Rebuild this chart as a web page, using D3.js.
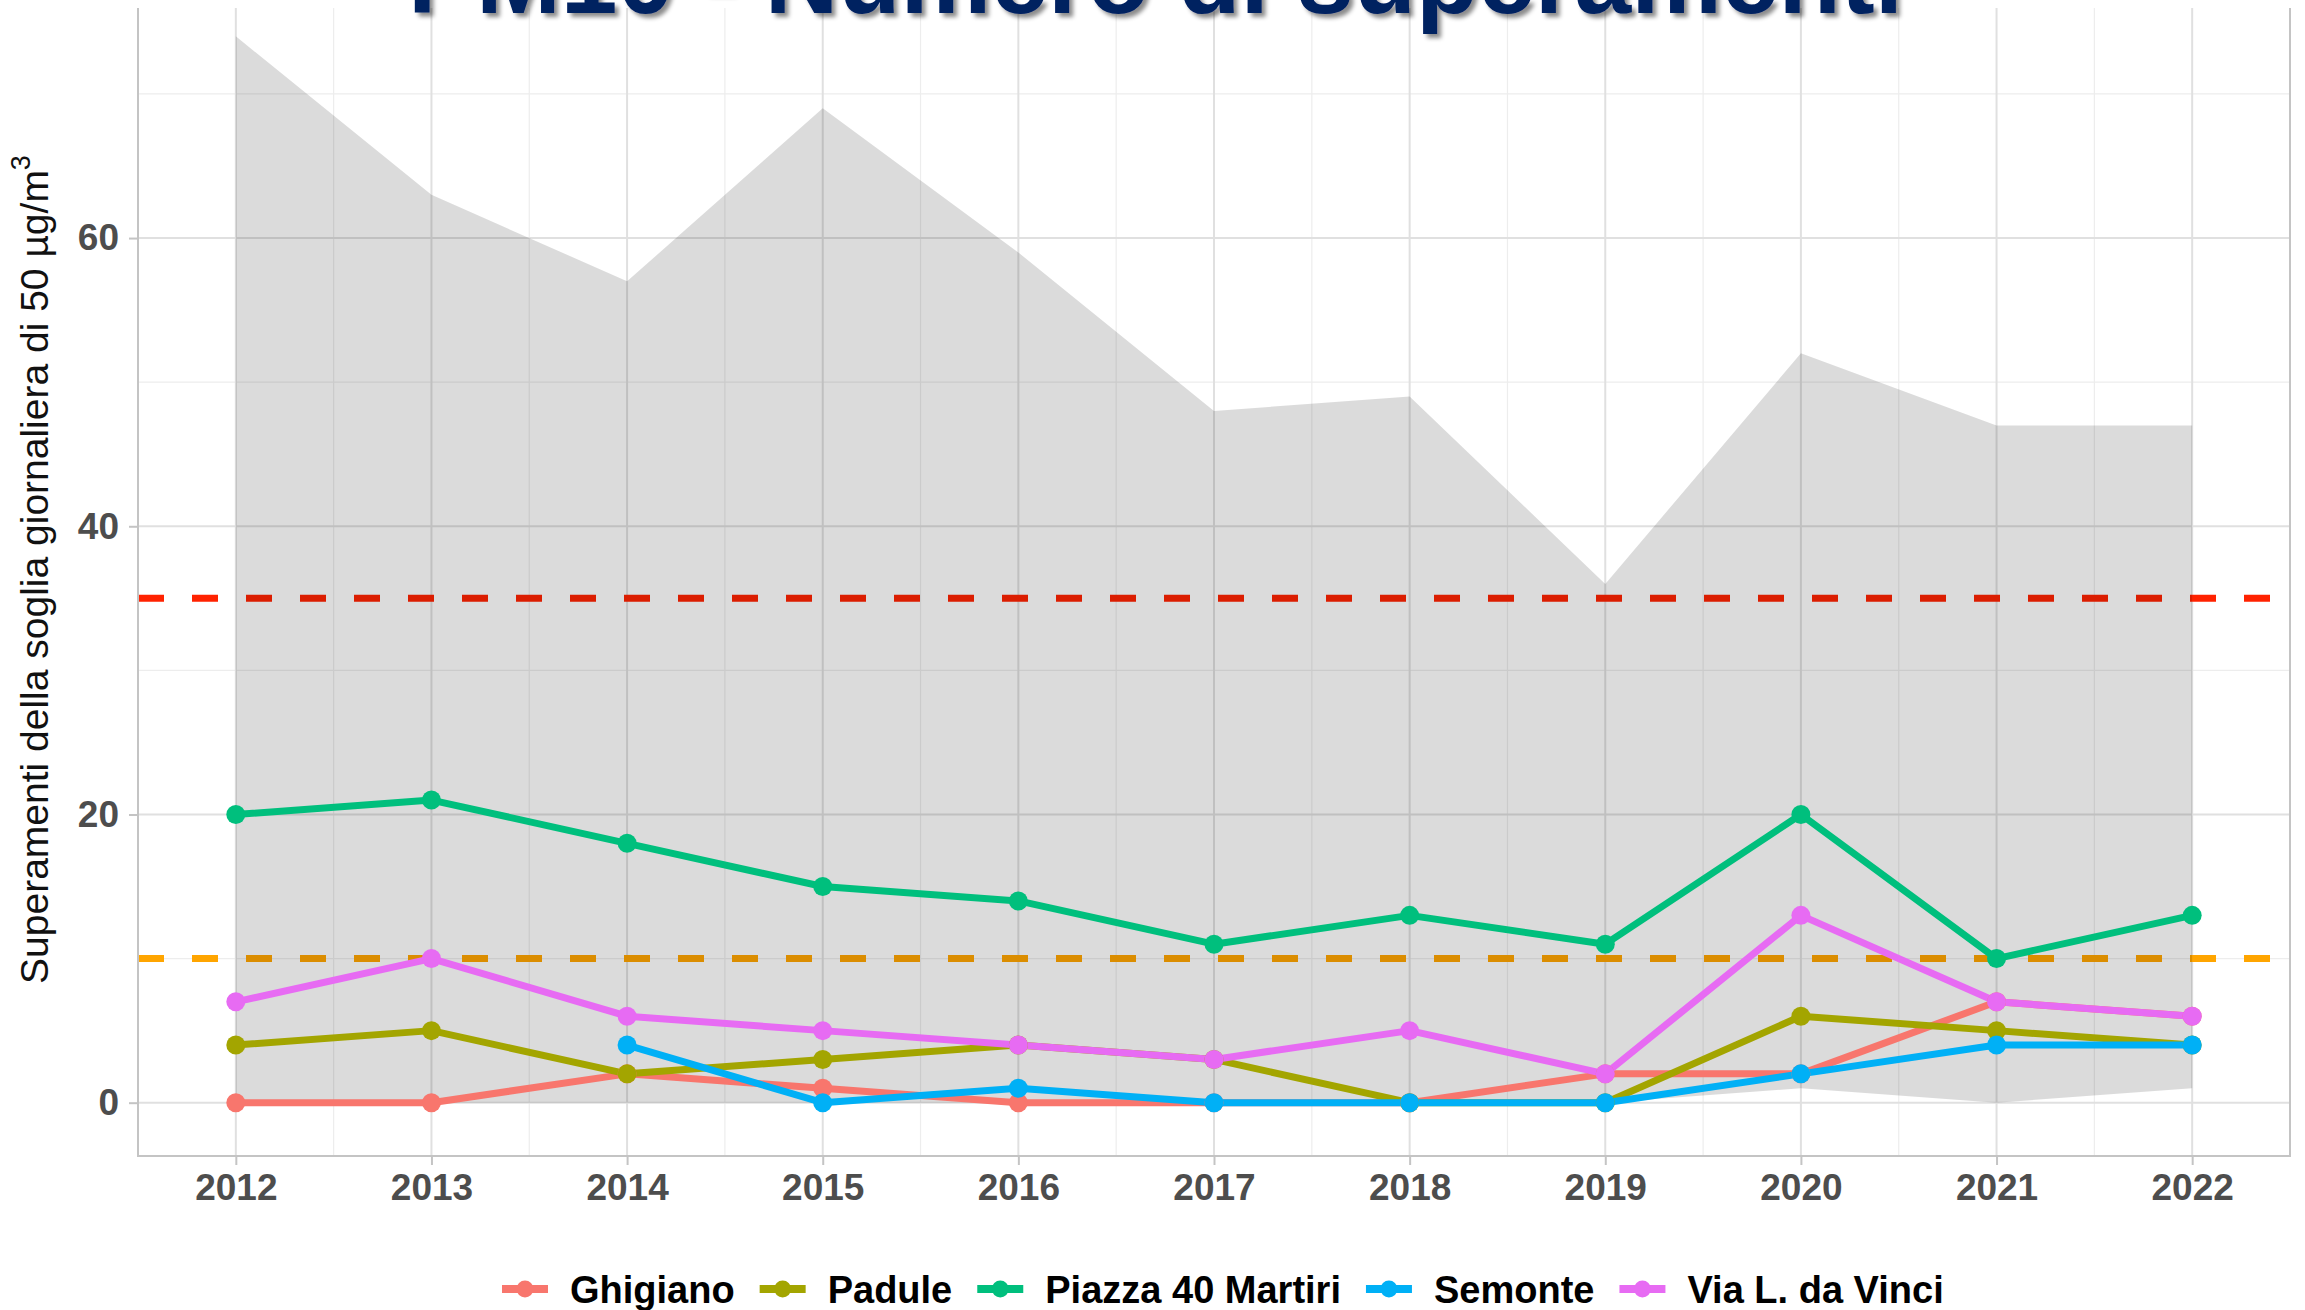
<!DOCTYPE html>
<html>
<head>
<meta charset="utf-8">
<script src="https://cdn.jsdelivr.net/npm/d3@7"></script>
<style>
  body { margin: 0; background: #fff; }
  text { font-family: "Liberation Sans", Arial, sans-serif; }
</style>
</head>
<body>
<div class="chart-wrapper"></div>
<script>
const years = [2012, 2013, 2014, 2015, 2016, 2017, 2018, 2019, 2020, 2021, 2022];
const stations = ['Ghigiano', 'Padule', 'Piazza 40 Martiri', 'Semonte', 'Via L. da Vinci'];
const stationColors = ['#F8766D', '#A3A500', '#00BF7D', '#00B0F6', '#E76BF3'];

const ghigiano = [0, 0, 2, 1, 0, 0, 0, 2, 2, 7, 6];
const padule   = [4, 5, 2, 3, 4, 3, 0, 0, 6, 5, 4];
const piazza   = [20, 21, 18, 15, 14, 11, 13, 11, 20, 10, 13];
const semonte  = [null, null, 4, 0, 1, 0, 0, 0, 2, 4, 4];
const vinci    = [7, 10, 6, 5, 4, 3, 5, 2, 13, 7, 6];

// min / max over all the region's stations
const rangeMin = [0, 0, 0, 0, 0, 0, 0, 0, 1, 0, 1];
const rangeMax = [74, 63, 57, 69, 59, 48, 49, 36, 52, 47, 47];

const limits = [35, 10];
const limitColors = ['#FF2200', '#FFA500'];

const yTicks = [0, 20, 40, 60];
const yMinor = [10, 30, 50, 70];

const title = 'PM10 - Numero di superamenti';
const yTitle = 'Superamenti della soglia giornaliera di 50 \u00b5g/m';

const width = 2305, height = 1310;
const panel = {left: 138, right: 2290, top: -17, bottom: 1156};

const svg = d3.select('.chart-wrapper')
  .append('svg')
  .attr('width', width)
  .attr('height', height)
  .style('display', 'block');

const defs = svg.append('defs');
const shadow = defs.append('filter').attr('id', 'shadow')
  .attr('x', '-5%').attr('y', '-50%').attr('width', '110%').attr('height', '200%');
shadow.append('feDropShadow')
  .attr('dx', 4).attr('dy', 4).attr('stdDeviation', 2)
  .attr('flood-color', '#000').attr('flood-opacity', 0.45);

const x = d3.scaleLinear().domain([2011.5, 2022.5]).range([panel.left, panel.right]);
const y = d3.scaleLinear().domain([-3.7, 77.7]).range([panel.bottom, panel.top]);

// grid
const grid = svg.append('g');
grid.selectAll('.ymin').data(yMinor).join('line')
  .attr('x1', panel.left).attr('x2', panel.right)
  .attr('y1', d => y(d)).attr('y2', d => y(d))
  .attr('stroke', '#EDEDED').attr('stroke-width', 1.2);
grid.selectAll('.xmin').data(years.slice(0, -1).map(d => d + 0.5)).join('line')
  .attr('y1', panel.top).attr('y2', panel.bottom)
  .attr('x1', d => x(d)).attr('x2', d => x(d))
  .attr('stroke', '#EDEDED').attr('stroke-width', 1.2);
grid.selectAll('.ymaj').data(yTicks).join('line')
  .attr('x1', panel.left).attr('x2', panel.right)
  .attr('y1', d => y(d)).attr('y2', d => y(d))
  .attr('stroke', '#E0E0E0').attr('stroke-width', 2);
grid.selectAll('.xmaj').data(years).join('line')
  .attr('y1', panel.top).attr('y2', panel.bottom)
  .attr('x1', d => x(d)).attr('x2', d => x(d))
  .attr('stroke', '#E0E0E0').attr('stroke-width', 2);

// limit lines
svg.append('g').selectAll('line').data(limits).join('line')
  .attr('x1', panel.left).attr('x2', panel.right)
  .attr('y1', d => y(d)).attr('y2', d => y(d))
  .attr('stroke', (d, i) => limitColors[i])
  .attr('stroke-width', 7)
  .attr('stroke-dasharray', '26 28');

// ribbon
const area = d3.area()
  .x((d, i) => x(years[i]))
  .y0((d, i) => y(rangeMin[i]))
  .y1(d => y(d));
svg.append('path')
  .attr('d', area(rangeMax))
  .attr('fill', '#000')
  .attr('fill-opacity', 0.14);

// series
const series = [ghigiano, padule, piazza, semonte, vinci].map((vals, i) => ({
  name: stations[i],
  color: stationColors[i],
  values: vals.map((v, j) => ({year: years[j], v: v}))
}));

const line = d3.line()
  .defined(d => d.v != null)
  .x(d => x(d.year))
  .y(d => y(d.v));

svg.append('g').selectAll('path').data(series).join('path')
  .attr('d', d => line(d.values))
  .attr('fill', 'none')
  .attr('stroke', d => d.color)
  .attr('stroke-width', 7)
  .attr('stroke-linejoin', 'round');

svg.append('g').selectAll('g').data(series).join('g')
  .attr('fill', d => d.color)
  .selectAll('circle')
  .data(d => d.values.filter(p => p.v != null))
  .join('circle')
  .attr('cx', d => x(d.year))
  .attr('cy', d => y(d.v))
  .attr('r', 9.5);

// panel border
svg.append('rect')
  .attr('x', panel.left).attr('y', panel.top)
  .attr('width', panel.right - panel.left)
  .attr('height', panel.bottom - panel.top)
  .attr('fill', 'none')
  .attr('stroke', '#C4C4C4')
  .attr('stroke-width', 2);

// axes
const yAxis = svg.append('g')
  .attr('transform', `translate(${panel.left},0)`)
  .call(d3.axisLeft(y).tickValues(yTicks).tickSize(9).tickPadding(10));
const xAxis = svg.append('g')
  .attr('transform', `translate(0,${panel.bottom})`)
  .call(d3.axisBottom(x).tickValues(years).tickSize(9).tickFormat(d3.format('d')).tickPadding(9));

[yAxis, xAxis].forEach(a => {
  a.select('.domain').remove();
  a.selectAll('.tick line').attr('stroke', '#C4C4C4').attr('stroke-width', 2);
  a.selectAll('.tick text')
    .attr('fill', '#4D4D4D')
    .style('font-family', '"Liberation Sans", Arial, sans-serif')
    .style('font-size', '37px')
    .style('font-weight', 'bold');
});

// y title
const yt = svg.append('text')
  .attr('transform', `translate(48,${(panel.top + panel.bottom) / 2}) rotate(-90)`)
  .attr('text-anchor', 'middle')
  .attr('fill', '#111')
  .style('font-size', '39px');
yt.append('tspan').text(yTitle);
yt.append('tspan').attr('dy', -18).style('font-size', '27px').text('3');

// title (sits over the top of the panel)
svg.append('rect').attr('x', 0).attr('y', 0).attr('width', width).attr('height', 8).attr('fill', '#fff');
svg.append('text')
  .attr('x', 408).attr('y', 13)
  .attr('textLength', 1495)
  .attr('lengthAdjust', 'spacingAndGlyphs')
  .attr('fill', '#002060')
  .attr('filter', 'url(#shadow)')
  .style('font-size', '102px')
  .style('font-weight', 'bold')
  .text(title);

// legend
const legend = svg.append('g').attr('transform', 'translate(0,1289)');
let lx = 502;
series.forEach(s => {
  const g = legend.append('g').attr('transform', `translate(${lx},0)`);
  g.append('line').attr('x1', 0).attr('x2', 46).attr('stroke', s.color).attr('stroke-width', 8);
  g.append('circle').attr('cx', 23).attr('r', 8.5).attr('fill', s.color);
  const t = g.append('text')
    .attr('x', 68).attr('y', 14)
    .attr('fill', '#000')
    .style('font-size', '38px')
    .style('font-weight', 'bold')
    .text(s.name);
  lx += 68 + t.node().getComputedTextLength() + 25;
});
</script>
</body>
</html>
